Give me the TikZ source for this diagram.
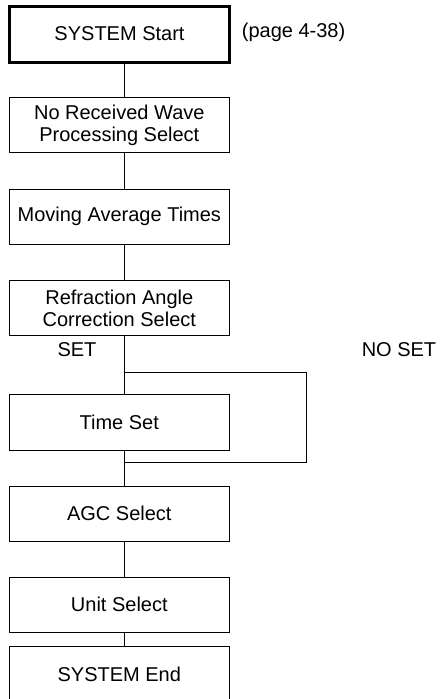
\documentclass[tikz,border=0pt]{standalone}
\usepackage{fontspec}
\setmainfont{Liberation Sans}
\begin{document}
\begin{tikzpicture}[x=1pt,y=-1pt,
  box/.style={draw,line width=1pt,minimum width=219.5pt,minimum height=55pt,inner sep=0pt,align=center,font=\fontsize{20pt}{22.5pt}\selectfont},
  thickbox/.style={box,line width=3pt,minimum width=219.5pt,minimum height=56pt},
  lbl/.style={inner sep=0pt,font=\fontsize{20pt}{22.5pt}\selectfont},
  conn/.style={line width=1pt}]
\useasboundingbox (0,0) rectangle (441,699);
\node[thickbox] (start) at (119.5,34) {SYSTEM Start};
\node[lbl,anchor=west] (page) at (241.7,32) {(page 4-38)};
\node[box] (norecv) at (119.3,125.2) {No Received Wave\\Processing Select};
\node[box] (moving) at (119.3,216.7) {Moving Average Times};
\node[box] (refr) at (119.3,308.3) {Refraction Angle\\Correction Select};
\node[lbl] (set) at (77,350) {SET};
\node[lbl] (noset) at (399,350) {NO SET};
\node[box,minimum height=55.7pt] (timeset) at (119.3,422.2) {Time Set};
\node[box] (agc) at (119.3,513.5) {AGC Select};
\node[box] (unit) at (119.3,604.8) {Unit Select};
\node[box,anchor=north,minimum height=60pt] (end) at (119.3,646) {\raisebox{4pt}{SYSTEM End}};
\coordinate (split) at (124,372.3);
\coordinate (join) at (124,462.7);
\draw[conn] ([xshift=4.5pt]start.south) -- ([xshift=4.7pt]norecv.north);
\draw[conn] ([xshift=4.7pt]norecv.south) -- ([xshift=4.7pt]moving.north);
\draw[conn] ([xshift=4.7pt]moving.south) -- ([xshift=4.7pt]refr.north);
\draw[conn] ([xshift=4.7pt]refr.south) -- ([xshift=4.7pt]timeset.north);
\draw[conn] ([xshift=4.7pt]timeset.south) -- ([xshift=4.7pt]agc.north);
\draw[conn] ([xshift=4.7pt]agc.south) -- ([xshift=4.7pt]unit.north);
\draw[conn] ([xshift=4.7pt]unit.south) -- ([xshift=4.7pt]end.north);
\draw[conn] (split) -- (306,372.3) -- (306,462.7) -- (join);
\end{tikzpicture}
\end{document}
